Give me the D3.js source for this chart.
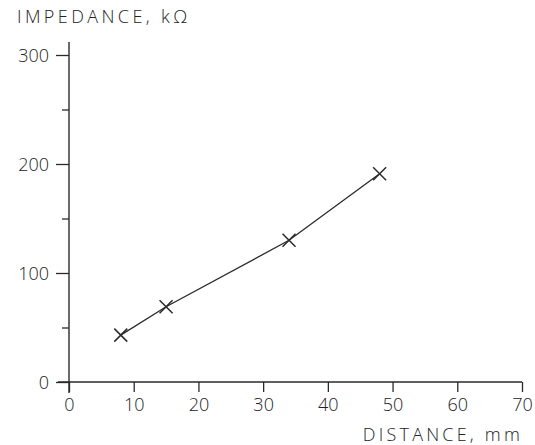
<!DOCTYPE html>
<html>
<head>
<meta charset="utf-8">
<script src="https://cdn.jsdelivr.net/npm/d3@7"></script>
<style>
  html, body { margin: 0; padding: 0; background: #fff; }
  svg { display: block; }
  text { font-family: "Open Sans", "DejaVu Sans", sans-serif; font-weight: 300; fill: #222; }
</style>
</head>
<body>
<svg id="chart" width="535" height="445"></svg>
<script>
// Measured impedance against electrode distance
const distance = [8, 15, 34, 48];          // mm
const impedance = [43, 69, 130, 191];      // kΩ
const xTicks = [0, 10, 20, 30, 40, 50, 60, 70];
const yTicks = [0, 100, 200, 300];
const yMinorTicks = [50, 150, 250];
const yTitle = "IMPEDANCE, kΩ";
const xTitle = "DISTANCE, mm";

const svg = d3.select("#chart");
const ink = "#2a2a2a";

const x = d3.scaleLinear().domain([0, 70]).range([69, 522]);
const y = d3.scaleLinear().domain([0, 300]).range([382, 55]);

// X axis: ticks hang below the baseline
const xAxis = svg.append("g")
  .attr("transform", `translate(0,${y(0)})`)
  .call(d3.axisBottom(x).tickValues(xTicks).tickSize(10).tickSizeOuter(0).tickFormat(d3.format("d")));
xAxis.select(".domain").remove();
xAxis.selectAll("line").attr("stroke", ink).attr("stroke-width", 1.3);
xAxis.selectAll("text")
  .attr("font-size", 18).attr("dy", null).attr("y", 29)
  .attr("fill", "#222").attr("font-family", "'Open Sans', sans-serif");

// Y axis: major and minor ticks to the left
const yAxis = svg.append("g")
  .attr("transform", `translate(${x(0)},0)`)
  .call(d3.axisLeft(y).tickValues(yTicks).tickSize(13).tickSizeOuter(0).tickFormat(d3.format("d")));
yAxis.select(".domain").remove();
yAxis.selectAll("line").attr("stroke", ink).attr("stroke-width", 1.3);
yAxis.selectAll("text")
  .attr("font-size", 18).attr("x", -20).attr("dy", "0.36em")
  .attr("fill", "#222").attr("font-family", "'Open Sans', sans-serif");

svg.append("g")
  .attr("transform", `translate(${x(0)},0)`)
  .call(d3.axisLeft(y).tickValues(yMinorTicks).tickSize(7).tickSizeOuter(0).tickFormat(""))
  .call(g => g.select(".domain").remove())
  .selectAll("line").attr("stroke", ink).attr("stroke-width", 1.3);

// Axis lines
svg.append("line")
  .attr("x1", x(0) - 11).attr("x2", x(70))
  .attr("y1", y(0)).attr("y2", y(0))
  .attr("stroke", ink).attr("stroke-width", 1.4);
svg.append("line")
  .attr("x1", x(0)).attr("x2", x(0))
  .attr("y1", y(0) + 11).attr("y2", y(300) - 13)
  .attr("stroke", ink).attr("stroke-width", 1.4);

// Data line
const pts = distance.map((d, i) => [d, impedance[i]]);
svg.append("path")
  .datum(pts)
  .attr("fill", "none")
  .attr("stroke", ink)
  .attr("stroke-width", 1.3)
  .attr("d", d3.line().x(d => x(d[0])).y(d => y(d[1])));

// Cross markers
const s = 6.5;
svg.append("g").selectAll("path")
  .data(pts).join("path")
  .attr("fill", "none").attr("stroke", ink).attr("stroke-width", 1.5)
  .attr("d", d => {
    const cx = x(d[0]), cy = y(d[1]);
    return `M${cx - s},${cy - s}L${cx + s},${cy + s}M${cx - s},${cy + s}L${cx + s},${cy - s}`;
  });

// Titles
svg.append("text")
  .attr("x", 17).attr("y", 23)
  .attr("font-size", 18).attr("letter-spacing", 3.4)
  .text(yTitle);
svg.append("text")
  .attr("x", 523).attr("y", 441)
  .attr("text-anchor", "end")
  .attr("font-size", 18).attr("letter-spacing", 3.2)
  .text(xTitle);
</script>
</body>
</html>
